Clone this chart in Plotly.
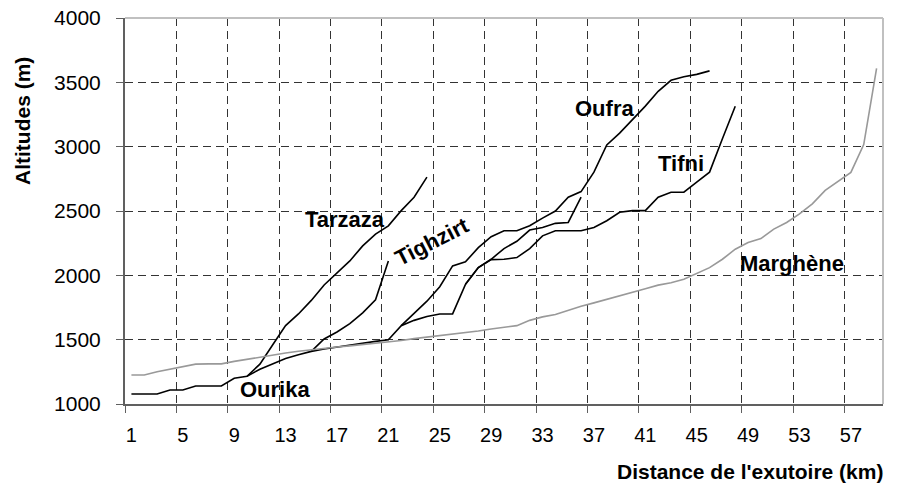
import plotly.graph_objects as go

# distance from outlet (km, category index) and altitude (m) per stream
ourika_km = list(range(1, 37))
ourika_alt = [1078, 1078, 1078, 1109, 1109, 1140, 1140, 1140, 1200, 1216,
              1270, 1312, 1354, 1383, 1409, 1427, 1443, 1458, 1474, 1487,
              1500, 1609, 1650, 1680, 1700, 1700, 1930, 2060, 2125, 2208,
              2265, 2352, 2372, 2404, 2411, 2607]

tarzaza_km = list(range(10, 25))
tarzaza_alt = [1216, 1310, 1460, 1609, 1700, 1805, 1925, 2021, 2112, 2229,
               2320, 2385, 2503, 2607, 2763]

tighzirt_km = list(range(15, 22))
tighzirt_alt = [1409, 1505, 1560, 1625, 1708, 1810, 2112]

oufra_km = list(range(22, 47))
oufra_alt = [1609, 1708, 1799, 1912, 2073, 2105, 2215, 2300, 2346, 2346,
             2385, 2445, 2500, 2607, 2651, 2802, 3013, 3105, 3210, 3315,
             3430, 3516, 3544, 3562, 3589]

tifni_km = list(range(27, 49))
tifni_alt = [1930, 2060, 2122, 2125, 2138, 2208, 2307, 2346, 2346, 2346,
             2372, 2424, 2490, 2503, 2503, 2607, 2646, 2646, 2724, 2802,
             3062, 3314]

marghene_km = list(range(1, 60))
marghene_alt = [1225, 1225, 1250, 1272, 1292, 1310, 1312, 1312, 1331, 1348,
                1365, 1380, 1396, 1410, 1422, 1432, 1443, 1452, 1461, 1470,
                1479, 1493, 1508, 1520, 1531, 1542, 1552, 1567, 1583, 1596,
                1609, 1650, 1677, 1695, 1729, 1760, 1786, 1812, 1839, 1870,
                1896, 1924, 1943, 1969, 2013, 2060, 2125, 2203, 2255, 2286,
                2359, 2411, 2477, 2555, 2660, 2730, 2800, 3016, 3609]

x_ticks = list(range(1, 58, 4))

# label name, x, y, angle
labels = [("Tarzaza", 17.6, 2437, 0), ("Tighzirt", 24.4, 2266, -27),
          ("Oufra", 37.8, 3297, 0), ("Tifni", 43.8, 2867, 0),
          ("Marghène", 52.4, 2094, 0), ("Ourika", 12.2, 1109, 0)]

FONT = "Liberation Sans, Arial, sans-serif"

fig = go.Figure()
black_series = [(ourika_km, ourika_alt), (tarzaza_km, tarzaza_alt),
                (tighzirt_km, tighzirt_alt), (oufra_km, oufra_alt),
                (tifni_km, tifni_alt)]
for xs, ys in black_series:
    fig.add_trace(go.Scatter(x=xs, y=ys, mode="lines",
                             line=dict(color="black", width=1.6)))
fig.add_trace(go.Scatter(x=marghene_km, y=marghene_alt, mode="lines",
                         line=dict(color="#999999", width=1.6)))

for text, x, y, ang in labels:
    fig.add_annotation(x=x, y=y, text=f"<b>{text}</b>", showarrow=False,
                       textangle=ang,
                       font=dict(family=FONT, size=22, color="black"))

# axis titles
fig.add_annotation(xref="paper", yref="paper", x=1.002, y=-0.176,
                   xanchor="right", yanchor="middle", showarrow=False,
                   text="<b>Distance de l'exutoire (km)</b>",
                   font=dict(family=FONT, size=21, color="black"))
fig.add_annotation(xref="paper", yref="paper", x=-0.136, y=0.733,
                   xanchor="center", yanchor="middle", showarrow=False,
                   textangle=-90, text="<b>Altitudes (m)</b>",
                   font=dict(family=FONT, size=21, color="black"))

# plot area border, light grey on top and right
fig.add_shape(type="line", xref="paper", yref="paper", x0=0, x1=1, y0=1, y1=1,
              line=dict(color="#c0c0c0", width=2), layer="above")
fig.add_shape(type="line", xref="paper", yref="paper", x0=1, x1=1, y0=0, y1=1,
              line=dict(color="#c0c0c0", width=2), layer="above")

fig.update_xaxes(range=[0.5, 59.5], tickmode="array", tickvals=x_ticks,
                 ticktext=[str(v) for v in x_ticks], ticks="",
                 showgrid=False, zeroline=False, automargin=False,
                 showline=True, linecolor="#606060", linewidth=2,
                 tickfont=dict(family=FONT, size=20, color="black"),
                 ticklabelstandoff=12,
                 minor=dict(tickmode="linear", tick0=0.5, dtick=4,
                            ticks="outside", ticklen=7, tickcolor="#606060",
                            showgrid=True, gridcolor="#333333", gridwidth=1,
                            griddash="8px,5px"))
fig.update_yaxes(range=[1000, 4000], dtick=500, tick0=1000,
                 ticks="outside", ticklen=7, tickcolor="#606060",
                 showline=True, linecolor="#606060", linewidth=2,
                 zeroline=False, showgrid=True, gridcolor="#333333",
                 gridwidth=1, griddash="8px,5px", automargin=False,
                 tickfont=dict(family=FONT, size=21, color="black"),
                 ticklabelstandoff=11)

fig.update_layout(width=900, height=486, showlegend=False,
                  plot_bgcolor="white", paper_bgcolor="white",
                  margin=dict(l=125, r=17, t=18, b=82))

# drop the page's default body margin so the figure sits at the window origin
fig.write_html("out.html", config={"displayModeBar": False},
               post_script="document.body.style.margin='0';")
